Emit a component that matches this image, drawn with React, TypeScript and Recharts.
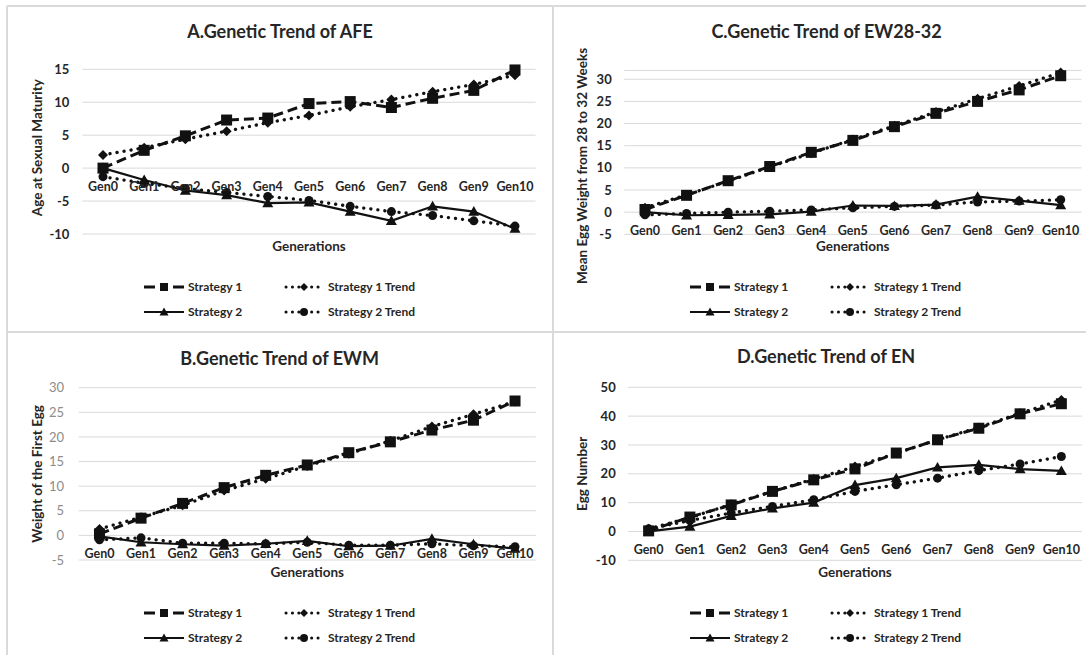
import { CartesianGrid, Label, Line, LineChart, XAxis, YAxis } from "recharts";

const FONT = "Lato, 'Open Sans', 'DejaVu Sans', sans-serif";
const INK = "#111111";
const TEXT = "#262626";
const GRID = "#d9d9d9";
const FRAME = "#dadada";

const generations = ["Gen0", "Gen1", "Gen2", "Gen3", "Gen4", "Gen5", "Gen6", "Gen7", "Gen8", "Gen9", "Gen10"];
const seriesNames = ["Strategy 1", "Strategy 1 Trend", "Strategy 2", "Strategy 2 Trend"];

// A. age at first egg
const afeTicks = [-10, -5, 0, 5, 10, 15];
const afeStrategy1 = [0, 2.7, 4.9, 7.3, 7.6, 9.8, 10.1, 9.2, 10.6, 11.8, 14.9];
const afeStrategy1Trend = [2.0, 3.1, 4.4, 5.6, 6.9, 8.0, 9.3, 10.4, 11.6, 12.7, 14.1];
const afeStrategy2 = [0, -1.8, -3.4, -4.1, -5.3, -5.2, -6.6, -8.0, -5.8, -6.6, -9.2];
const afeStrategy2Trend = [-1.3, -2.3, -3.1, -3.7, -4.3, -4.9, -5.8, -6.6, -7.2, -8.0, -8.8];

// C. egg weight 28-32 weeks
const ewTicks = [-5, 0, 5, 10, 15, 20, 25, 30];
const ewStrategy1 = [0.6, 3.8, 7.1, 10.3, 13.5, 16.2, 19.3, 22.3, 25.0, 27.6, 30.8];
const ewStrategy1Trend = [1.0, 3.9, 7.0, 10.2, 13.3, 16.4, 19.5, 22.6, 25.6, 28.5, 31.5];
const ewStrategy2 = [0, -0.7, -0.6, -0.5, 0.1, 1.5, 1.4, 1.7, 3.5, 2.6, 1.6];
const ewStrategy2Trend = [-0.6, -0.3, 0.0, 0.2, 0.5, 1.0, 1.3, 1.6, 2.3, 2.5, 2.8];

// B. weight of first egg
const ewmTicks = [-5, 0, 5, 10, 15, 20, 25, 30];
const ewmStrategy1 = [0.3, 3.5, 6.5, 9.7, 12.2, 14.3, 16.8, 19.0, 21.4, 23.4, 27.3];
const ewmStrategy1Trend = [1.3, 3.7, 6.1, 9.1, 11.5, 14.1, 16.6, 19.2, 22.1, 24.6, 27.2];
const ewmStrategy2 = [-0.2, -1.4, -1.8, -2.1, -1.7, -1.1, -2.2, -2.1, -0.7, -1.8, -2.7];
const ewmStrategy2Trend = [-0.9, -0.5, -1.6, -1.6, -1.7, -1.4, -2.0, -2.0, -1.7, -2.1, -2.3];

// D. egg number
const enTicks = [-10, 0, 10, 20, 30, 40, 50];
const enStrategy1 = [0.2, 5.0, 9.2, 13.9, 17.9, 21.7, 27.2, 31.8, 35.8, 40.8, 44.3];
const enStrategy1Trend = [0.9, 4.8, 9.4, 13.9, 18.2, 22.5, 27.1, 31.8, 36.1, 41.0, 45.6];
const enStrategy2 = [0, 1.7, 5.4, 8.0, 10.0, 16.1, 18.5, 22.2, 23.1, 21.6, 21.0];
const enStrategy2Trend = [0.9, 3.8, 6.4, 8.7, 11.0, 13.9, 16.2, 18.5, 21.1, 23.4, 26.0];

type Row = { gen: string; s1: number; s1t: number; s2: number; s2t: number };

function buildRows(s1: number[], s1t: number[], s2: number[], s2t: number[]): Row[] {
  return generations.map((gen, i) => ({ gen, s1: s1[i], s1t: s1t[i], s2: s2[i], s2t: s2t[i] }));
}

type MarkerKind = "square" | "diamond" | "triangle" | "circle";

const SERIES_STYLE: {
  key: keyof Row;
  marker: MarkerKind;
  width: number;
  dash?: string;
  cap: "butt" | "round";
  size: number;
}[] = [
  { key: "s1", marker: "square", width: 3, dash: "10 5", cap: "butt", size: 11 },
  { key: "s1t", marker: "diamond", width: 3.3, dash: "0.1 7", cap: "round", size: 10 },
  { key: "s2", marker: "triangle", width: 2.2, cap: "butt", size: 11 },
  { key: "s2t", marker: "circle", width: 3.3, dash: "0.1 7", cap: "round", size: 9 },
];

function Marker({ kind, cx, cy, size }: { kind: MarkerKind; cx: number; cy: number; size: number }) {
  const h = size / 2;
  if (kind === "square") return <rect x={cx - h} y={cy - h} width={size} height={size} fill={INK} />;
  if (kind === "diamond")
    return <polygon points={`${cx},${cy - h} ${cx + h},${cy} ${cx},${cy + h} ${cx - h},${cy}`} fill={INK} />;
  if (kind === "triangle")
    return <polygon points={`${cx},${cy - h} ${cx + h},${cy + h * 0.75} ${cx - h},${cy + h * 0.75}`} fill={INK} />;
  return <circle cx={cx} cy={cy} r={h} fill={INK} />;
}

type Panel = {
  title: string;
  yLabel: string;
  ticks: number[];
  domain: [number, number];
  rows: Row[];
  left: number;
  top: number;
  width: number;
  height: number;
  plot: { left: number; right: number; top: number; bottom: number };
  yTickMargin: number;
  yLabelX: number;
  yLabelShift: number;
  titleX: number;
  titleY: number;
  yTickFill: string;
  yTickWeight: number;
};

const panels: Panel[] = [
  {
    title: "A.Genetic Trend of AFE",
    yLabel: "Age at Sexual Maturity",
    ticks: afeTicks,
    domain: [-10, 15],
    rows: buildRows(afeStrategy1, afeStrategy1Trend, afeStrategy2, afeStrategy2Trend),
    left: 7,
    top: 6,
    width: 546,
    height: 326,
    plot: { left: 75.4, right: 528.6, top: 63.3, bottom: 228 },
    yTickMargin: 13,
    yLabelX: 29.7,
    yLabelShift: -4,
    titleX: 273,
    titleY: 25,
    yTickFill: TEXT,
    yTickWeight: 700,
  },
  {
    title: "C.Genetic Trend of EW28-32",
    yLabel: "Mean Egg Weight from 28 to 32 Weeks",
    ticks: ewTicks,
    domain: [-5, 32],
    rows: buildRows(ewStrategy1, ewStrategy1Trend, ewStrategy2, ewStrategy2Trend),
    left: 553,
    top: 6,
    width: 533,
    height: 326,
    plot: { left: 71.2, right: 528.5, top: 64.4, bottom: 228.3 },
    yTickMargin: 12.5,
    yLabelX: 29,
    yLabelShift: 13.6,
    titleX: 273.6,
    titleY: 25,
    yTickFill: TEXT,
    yTickWeight: 700,
  },
  {
    title: "B.Genetic Trend of EWM",
    yLabel: "Weight of the First Egg",
    ticks: ewmTicks,
    domain: [-5, 30],
    rows: buildRows(ewmStrategy1, ewmStrategy1Trend, ewmStrategy2, ewmStrategy2Trend),
    left: 7,
    top: 332,
    width: 546,
    height: 323,
    plot: { left: 71.7, right: 528.8, top: 55.7, bottom: 228 },
    yTickMargin: 14.7,
    yLabelX: 30.4,
    yLabelShift: 0,
    titleX: 272.6,
    titleY: 26,
    yTickFill: "#8c8c8c",
    yTickWeight: 400,
  },
  {
    title: "D.Genetic Trend of EN",
    yLabel: "Egg Number",
    ticks: enTicks,
    domain: [-10, 50],
    rows: buildRows(enStrategy1, enStrategy1Trend, enStrategy2, enStrategy2Trend),
    left: 553,
    top: 332,
    width: 533,
    height: 323,
    plot: { left: 75, right: 529, top: 55.3, bottom: 228.3 },
    yTickMargin: 12.3,
    yLabelX: 28.8,
    yLabelShift: 0,
    titleX: 273,
    titleY: 24,
    yTickFill: TEXT,
    yTickWeight: 700,
  },
];

function GenerationTick(props: any) {
  const { x, y, payload, lift } = props;
  return (
    <text
      x={x}
      y={y - lift + 18}
      textAnchor="middle"
      dominantBaseline="central"
      fill={TEXT}
      fontSize={12.5}
      fontWeight={700}
      fontFamily={FONT}
    >
      {payload.value}
    </text>
  );
}

function LegendSample({ index }: { index: number }) {
  const style = SERIES_STYLE[index];
  const cy = 7;
  return (
    <svg width={42} height={14} style={{ display: "block" }}>
      {style.marker === "square" && (
        <>
          <line x1={0} y1={cy} x2={11} y2={cy} stroke={INK} strokeWidth={3} />
          <line x1={29} y1={cy} x2={40} y2={cy} stroke={INK} strokeWidth={3} />
        </>
      )}
      {style.marker === "triangle" && <line x1={0} y1={cy} x2={40} y2={cy} stroke={INK} strokeWidth={2} />}
      {(style.marker === "diamond" || style.marker === "circle") && (
        <line
          x1={2}
          y1={cy}
          x2={40}
          y2={cy}
          stroke={INK}
          strokeWidth={3}
          strokeDasharray="0.1 6.3"
          strokeLinecap="round"
        />
      )}
      <Marker kind={style.marker} cx={20} cy={cy} size={style.marker === "triangle" ? 9 : 8} />
    </svg>
  );
}

function PanelLegend() {
  const cols = [137, 277];
  const rows = [281, 306];
  return (
    <>
      {seriesNames.map((name, i) => (
        <div
          key={name}
          style={{
            position: "absolute",
            left: cols[i % 2],
            top: rows[Math.floor(i / 2)] - 7,
            height: 14,
            display: "flex",
            alignItems: "center",
            gap: 2,
            fontFamily: FONT,
            fontSize: 12,
            fontWeight: 700,
            color: TEXT,
            whiteSpace: "nowrap",
          }}
        >
          <LegendSample index={i} />
          <span style={{ lineHeight: "14px" }}>{name}</span>
        </div>
      ))}
    </>
  );
}

function TrendPanel({ panel }: { panel: Panel }) {
  const { plot } = panel;
  const plotHeight = plot.bottom - plot.top;
  const plotWidth = plot.right - plot.left;
  const [min, max] = panel.domain;
  const zeroLift = (plotHeight * (0 - min)) / (max - min);
  const pad = plotWidth / (2 * generations.length);

  return (
    <div style={{ position: "absolute", left: panel.left, top: panel.top, width: panel.width, height: panel.height }}>
      <div
        style={{
          position: "absolute",
          left: panel.titleX - 200,
          top: panel.titleY - 12,
          width: 400,
          lineHeight: "24px",
          textAlign: "center",
          fontFamily: FONT,
          fontSize: 18,
          fontWeight: 700,
          color: TEXT,
        }}
      >
        {panel.title}
      </div>
      <LineChart
        width={panel.width}
        height={panel.height}
        data={panel.rows}
        margin={{
          top: plot.top,
          right: panel.width - plot.right,
          bottom: panel.height - plot.bottom - 1,
          left: 0,
        }}
      >
        <CartesianGrid vertical={false} stroke={GRID} strokeWidth={1} />
        <XAxis
          dataKey="gen"
          height={1}
          interval={0}
          axisLine={false}
          tickLine={false}
          tickSize={0}
          tickMargin={0}
          padding={{ left: pad, right: pad }}
          tick={(p: any) => <GenerationTick {...p} lift={zeroLift} />}
        >
          <Label
            value="Generations"
            position="bottom"
            offset={6.5}
            fill={TEXT}
            fontSize={13.5}
            fontWeight={700}
            fontFamily={FONT}
          />
        </XAxis>
        <YAxis
          width={plot.left}
          domain={panel.domain}
          ticks={panel.ticks}
          interval={0}
          axisLine={false}
          tickLine={false}
          tickSize={0}
          tickMargin={panel.yTickMargin}
          tick={{ fill: panel.yTickFill, fontSize: 13, fontWeight: panel.yTickWeight, fontFamily: FONT }}
        >
          <Label
            content={(lp: any) => {
              const vb = lp.viewBox ?? { y: plot.top, height: plotHeight };
              const cy = vb.y + vb.height / 2 + panel.yLabelShift;
              return (
                <text
                  x={panel.yLabelX}
                  y={cy}
                  transform={`rotate(-90 ${panel.yLabelX} ${cy})`}
                  textAnchor="middle"
                  dominantBaseline="central"
                  fill={TEXT}
                  fontSize={13.5}
                  fontWeight={700}
                  fontFamily={FONT}
                >
                  {panel.yLabel}
                </text>
              );
            }}
          />
        </YAxis>
        {SERIES_STYLE.map((s, i) => (
          <Line
            key={s.key}
            type="linear"
            dataKey={s.key}
            name={seriesNames[i]}
            stroke={INK}
            strokeWidth={s.width}
            strokeDasharray={s.dash}
            strokeLinecap={s.cap}
            dot={(dp: any) => <Marker key={`${s.key}-${dp.index}`} kind={s.marker} cx={dp.cx} cy={dp.cy} size={s.size} />}
            activeDot={false}
            isAnimationActive={false}
          />
        ))}
      </LineChart>
      <PanelLegend />
    </div>
  );
}

export default function App() {
  return (
    <div
      style={{
        position: "absolute",
        left: 0,
        top: 0,
        width: 1086,
        height: 655,
        background: "#ffffff",
        overflow: "hidden",
      }}
    >
      <div style={{ position: "absolute", left: 7, top: 5, width: 1079, height: 2, background: FRAME }} />
      <div style={{ position: "absolute", left: 6, top: 6, width: 2, height: 649, background: FRAME }} />
      <div style={{ position: "absolute", left: 552, top: 6, width: 2, height: 649, background: FRAME }} />
      <div style={{ position: "absolute", left: 7, top: 331, width: 1079, height: 2, background: FRAME }} />
      {panels.map((p) => (
        <TrendPanel key={p.title} panel={p} />
      ))}
    </div>
  );
}
